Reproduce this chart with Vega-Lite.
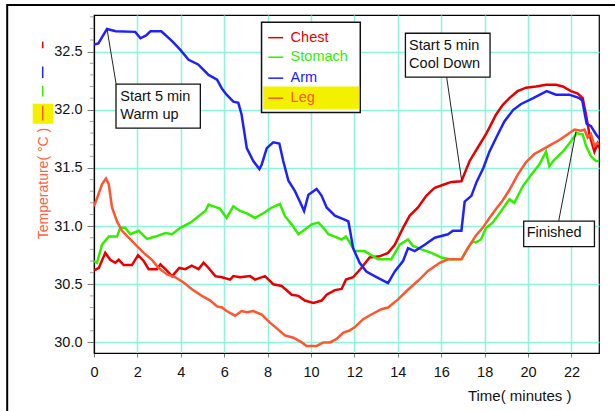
{
  "$schema": "https://vega.github.io/schema/vega-lite/v6.json",
  "width": 505,
  "height": 338,
  "autosize": "none",
  "padding": {"left": 94, "top": 15, "right": 16, "bottom": 58},
  "background": "white",
  "config": {
    "view": {"stroke": "black", "strokeWidth": 1.2},
    "font": "Liberation Sans",
    "text": {"font": "Liberation Sans"}
  },
  "datasets": {
    "temps": [
      {"series":"Chest","t":0.0,"v":30.62},{"series":"Chest","t":0.22,"v":30.64},{"series":"Chest","t":0.52,"v":30.77},{"series":"Chest","t":0.75,"v":30.71},{"series":"Chest","t":0.98,"v":30.685},{"series":"Chest","t":1.14,"v":30.71},{"series":"Chest","t":1.37,"v":30.665},{"series":"Chest","t":1.75,"v":30.665},{"series":"Chest","t":2.03,"v":30.75},{"series":"Chest","t":2.29,"v":30.7},{"series":"Chest","t":2.52,"v":30.63},{"series":"Chest","t":2.9,"v":30.63},{"series":"Chest","t":3.06,"v":30.67},{"series":"Chest","t":3.29,"v":30.63},{"series":"Chest","t":3.6,"v":30.57},{"series":"Chest","t":3.93,"v":30.64},{"series":"Chest","t":4.21,"v":30.63},{"series":"Chest","t":4.5,"v":30.66},{"series":"Chest","t":4.82,"v":30.63},{"series":"Chest","t":5.05,"v":30.685},{"series":"Chest","t":5.28,"v":30.64},{"series":"Chest","t":5.59,"v":30.57},{"series":"Chest","t":5.9,"v":30.56},{"series":"Chest","t":6.27,"v":30.54},{"series":"Chest","t":6.42,"v":30.57},{"series":"Chest","t":6.73,"v":30.56},{"series":"Chest","t":7.19,"v":30.57},{"series":"Chest","t":7.42,"v":30.54},{"series":"Chest","t":7.88,"v":30.57},{"series":"Chest","t":8.26,"v":30.5},{"series":"Chest","t":8.65,"v":30.485},{"series":"Chest","t":9.11,"v":30.41},{"series":"Chest","t":9.42,"v":30.4},{"series":"Chest","t":9.72,"v":30.36},{"series":"Chest","t":10.11,"v":30.34},{"series":"Chest","t":10.49,"v":30.36},{"series":"Chest","t":10.72,"v":30.41},{"series":"Chest","t":11.1,"v":30.45},{"series":"Chest","t":11.41,"v":30.46},{"series":"Chest","t":11.61,"v":30.54},{"series":"Chest","t":11.94,"v":30.56},{"series":"Chest","t":12.32,"v":30.64},{"series":"Chest","t":12.7,"v":30.73},{"series":"Chest","t":13.16,"v":30.74},{"series":"Chest","t":13.55,"v":30.77},{"series":"Chest","t":13.86,"v":30.84},{"series":"Chest","t":14.24,"v":30.985},{"series":"Chest","t":14.55,"v":31.09},{"series":"Chest","t":14.93,"v":31.16},{"series":"Chest","t":15.31,"v":31.26},{"series":"Chest","t":15.7,"v":31.33},{"series":"Chest","t":16.16,"v":31.36},{"series":"Chest","t":16.47,"v":31.38},{"series":"Chest","t":16.93,"v":31.385},{"series":"Chest","t":17.31,"v":31.56},{"series":"Chest","t":17.7,"v":31.68},{"series":"Chest","t":18.09,"v":31.8},{"series":"Chest","t":18.53,"v":31.96},{"series":"Chest","t":18.83,"v":32.04},{"series":"Chest","t":19.14,"v":32.1},{"series":"Chest","t":19.52,"v":32.16},{"series":"Chest","t":19.91,"v":32.19},{"series":"Chest","t":20.37,"v":32.2},{"series":"Chest","t":20.83,"v":32.215},{"series":"Chest","t":21.29,"v":32.215},{"series":"Chest","t":21.6,"v":32.2},{"series":"Chest","t":21.98,"v":32.16},{"series":"Chest","t":22.29,"v":32.14},{"series":"Chest","t":22.52,"v":32.1},{"series":"Chest","t":22.67,"v":31.96},{"series":"Chest","t":22.83,"v":31.79},{"series":"Chest","t":22.98,"v":31.69},{"series":"Chest","t":23.06,"v":31.64},{"series":"Chest","t":23.21,"v":31.71},{"series":"Chest","t":23.3,"v":31.67},
      {"series":"Stomach","t":0.0,"v":30.7},{"series":"Stomach","t":0.14,"v":30.685},{"series":"Stomach","t":0.37,"v":30.84},{"series":"Stomach","t":0.68,"v":30.91},{"series":"Stomach","t":1.06,"v":30.91},{"series":"Stomach","t":1.21,"v":30.985},{"series":"Stomach","t":1.44,"v":30.985},{"series":"Stomach","t":1.67,"v":30.93},{"series":"Stomach","t":2.06,"v":30.96},{"series":"Stomach","t":2.44,"v":30.89},{"series":"Stomach","t":2.83,"v":30.91},{"series":"Stomach","t":3.29,"v":30.94},{"series":"Stomach","t":3.6,"v":30.93},{"series":"Stomach","t":3.98,"v":30.985},{"series":"Stomach","t":4.44,"v":31.03},{"series":"Stomach","t":4.82,"v":31.085},{"series":"Stomach","t":5.13,"v":31.13},{"series":"Stomach","t":5.28,"v":31.185},{"series":"Stomach","t":5.51,"v":31.17},{"series":"Stomach","t":5.8,"v":31.15},{"series":"Stomach","t":6.11,"v":31.07},{"series":"Stomach","t":6.42,"v":31.17},{"series":"Stomach","t":6.73,"v":31.13},{"series":"Stomach","t":7.04,"v":31.11},{"series":"Stomach","t":7.42,"v":31.07},{"series":"Stomach","t":7.8,"v":31.11},{"series":"Stomach","t":8.19,"v":31.16},{"series":"Stomach","t":8.57,"v":31.19},{"series":"Stomach","t":8.8,"v":31.085},{"series":"Stomach","t":9.11,"v":31.015},{"series":"Stomach","t":9.42,"v":30.93},{"series":"Stomach","t":9.72,"v":30.97},{"series":"Stomach","t":10.03,"v":31.015},{"series":"Stomach","t":10.34,"v":31.03},{"series":"Stomach","t":10.57,"v":30.985},{"series":"Stomach","t":10.8,"v":30.93},{"series":"Stomach","t":11.1,"v":30.91},{"series":"Stomach","t":11.41,"v":30.885},{"series":"Stomach","t":11.61,"v":30.91},{"series":"Stomach","t":11.75,"v":30.87},{"series":"Stomach","t":12.01,"v":30.785},{"series":"Stomach","t":12.47,"v":30.785},{"series":"Stomach","t":13.09,"v":30.715},{"series":"Stomach","t":13.7,"v":30.715},{"series":"Stomach","t":14.09,"v":30.84},{"series":"Stomach","t":14.47,"v":30.885},{"series":"Stomach","t":14.7,"v":30.83},{"series":"Stomach","t":15.09,"v":30.8},{"series":"Stomach","t":15.55,"v":30.77},{"series":"Stomach","t":16.01,"v":30.73},{"series":"Stomach","t":16.39,"v":30.715},{"series":"Stomach","t":16.93,"v":30.715},{"series":"Stomach","t":17.24,"v":30.815},{"series":"Stomach","t":17.46,"v":30.87},{"series":"Stomach","t":17.6,"v":30.86},{"series":"Stomach","t":17.83,"v":30.885},{"series":"Stomach","t":18.07,"v":30.985},{"series":"Stomach","t":18.37,"v":31.03},{"series":"Stomach","t":18.76,"v":31.13},{"series":"Stomach","t":19.14,"v":31.23},{"series":"Stomach","t":19.37,"v":31.2},{"series":"Stomach","t":19.75,"v":31.34},{"series":"Stomach","t":20.14,"v":31.44},{"series":"Stomach","t":20.52,"v":31.53},{"series":"Stomach","t":20.83,"v":31.64},{"series":"Stomach","t":20.98,"v":31.515},{"series":"Stomach","t":21.21,"v":31.57},{"series":"Stomach","t":21.6,"v":31.64},{"series":"Stomach","t":21.98,"v":31.73},{"series":"Stomach","t":22.24,"v":31.8},{"series":"Stomach","t":22.52,"v":31.79},{"series":"Stomach","t":22.67,"v":31.69},{"series":"Stomach","t":22.9,"v":31.6},{"series":"Stomach","t":23.13,"v":31.56},{"series":"Stomach","t":23.3,"v":31.56},
      {"series":"Arm","t":0.0,"v":32.56},{"series":"Arm","t":0.2,"v":32.57},{"series":"Arm","t":0.6,"v":32.695},{"series":"Arm","t":1.0,"v":32.675},{"series":"Arm","t":1.9,"v":32.67},{"series":"Arm","t":2.14,"v":32.615},{"series":"Arm","t":2.4,"v":32.64},{"series":"Arm","t":2.6,"v":32.675},{"series":"Arm","t":3.1,"v":32.675},{"series":"Arm","t":3.6,"v":32.59},{"series":"Arm","t":3.98,"v":32.515},{"series":"Arm","t":4.36,"v":32.43},{"series":"Arm","t":4.8,"v":32.39},{"series":"Arm","t":5.28,"v":32.3},{"series":"Arm","t":5.67,"v":32.26},{"series":"Arm","t":5.9,"v":32.18},{"series":"Arm","t":6.11,"v":32.13},{"series":"Arm","t":6.42,"v":32.07},{"series":"Arm","t":6.65,"v":32.06},{"series":"Arm","t":6.8,"v":31.96},{"series":"Arm","t":7.04,"v":31.67},{"series":"Arm","t":7.34,"v":31.56},{"series":"Arm","t":7.62,"v":31.49},{"series":"Arm","t":7.73,"v":31.53},{"series":"Arm","t":7.96,"v":31.67},{"series":"Arm","t":8.26,"v":31.72},{"series":"Arm","t":8.54,"v":31.71},{"series":"Arm","t":8.72,"v":31.56},{"series":"Arm","t":8.96,"v":31.39},{"series":"Arm","t":9.26,"v":31.3},{"series":"Arm","t":9.49,"v":31.21},{"series":"Arm","t":9.68,"v":31.13},{"series":"Arm","t":9.88,"v":31.27},{"series":"Arm","t":10.26,"v":31.32},{"series":"Arm","t":10.49,"v":31.26},{"series":"Arm","t":10.72,"v":31.16},{"series":"Arm","t":11.1,"v":31.09},{"series":"Arm","t":11.49,"v":31.06},{"series":"Arm","t":11.72,"v":31.04},{"series":"Arm","t":11.8,"v":30.96},{"series":"Arm","t":11.94,"v":30.81},{"series":"Arm","t":12.24,"v":30.685},{"series":"Arm","t":12.55,"v":30.61},{"series":"Arm","t":12.93,"v":30.57},{"series":"Arm","t":13.24,"v":30.54},{"series":"Arm","t":13.55,"v":30.51},{"series":"Arm","t":13.86,"v":30.61},{"series":"Arm","t":14.24,"v":30.7},{"series":"Arm","t":14.47,"v":30.81},{"series":"Arm","t":14.78,"v":30.785},{"series":"Arm","t":15.24,"v":30.84},{"series":"Arm","t":15.7,"v":30.9},{"series":"Arm","t":16.31,"v":30.93},{"series":"Arm","t":16.54,"v":30.96},{"series":"Arm","t":16.93,"v":30.96},{"series":"Arm","t":17.08,"v":31.21},{"series":"Arm","t":17.39,"v":31.26},{"series":"Arm","t":17.63,"v":31.38},{"series":"Arm","t":17.94,"v":31.5},{"series":"Arm","t":18.22,"v":31.64},{"series":"Arm","t":18.56,"v":31.77},{"series":"Arm","t":18.91,"v":31.9},{"series":"Arm","t":19.32,"v":32.0},{"series":"Arm","t":19.68,"v":32.05},{"series":"Arm","t":20.24,"v":32.1},{"series":"Arm","t":20.86,"v":32.16},{"series":"Arm","t":21.29,"v":32.13},{"series":"Arm","t":21.9,"v":32.13},{"series":"Arm","t":22.37,"v":32.1},{"series":"Arm","t":22.5,"v":32.08},{"series":"Arm","t":22.7,"v":31.88},{"series":"Arm","t":22.9,"v":31.86},{"series":"Arm","t":23.13,"v":31.79},{"series":"Arm","t":23.3,"v":31.75},
      {"series":"Leg","t":0.0,"v":31.17},{"series":"Leg","t":0.14,"v":31.24},{"series":"Leg","t":0.37,"v":31.36},{"series":"Leg","t":0.55,"v":31.41},{"series":"Leg","t":0.68,"v":31.36},{"series":"Leg","t":0.83,"v":31.16},{"series":"Leg","t":1.06,"v":31.04},{"series":"Leg","t":1.29,"v":30.96},{"series":"Leg","t":1.6,"v":30.9},{"series":"Leg","t":1.91,"v":30.84},{"series":"Leg","t":2.29,"v":30.77},{"series":"Leg","t":2.67,"v":30.71},{"series":"Leg","t":2.98,"v":30.64},{"series":"Leg","t":3.37,"v":30.585},{"series":"Leg","t":3.75,"v":30.56},{"series":"Leg","t":4.13,"v":30.515},{"series":"Leg","t":4.5,"v":30.46},{"series":"Leg","t":4.97,"v":30.4},{"series":"Leg","t":5.36,"v":30.36},{"series":"Leg","t":5.67,"v":30.31},{"series":"Leg","t":5.9,"v":30.3},{"series":"Leg","t":6.11,"v":30.27},{"series":"Leg","t":6.5,"v":30.23},{"series":"Leg","t":6.8,"v":30.27},{"series":"Leg","t":7.04,"v":30.26},{"series":"Leg","t":7.34,"v":30.27},{"series":"Leg","t":7.73,"v":30.24},{"series":"Leg","t":8.11,"v":30.17},{"series":"Leg","t":8.49,"v":30.11},{"series":"Leg","t":8.8,"v":30.06},{"series":"Leg","t":9.19,"v":30.04},{"series":"Leg","t":9.57,"v":30.0},{"series":"Leg","t":9.8,"v":29.97},{"series":"Leg","t":10.26,"v":29.97},{"series":"Leg","t":10.57,"v":30.0},{"series":"Leg","t":10.87,"v":30.0},{"series":"Leg","t":11.18,"v":30.03},{"series":"Leg","t":11.49,"v":30.085},{"series":"Leg","t":11.75,"v":30.1},{"series":"Leg","t":12.01,"v":30.13},{"series":"Leg","t":12.4,"v":30.2},{"series":"Leg","t":12.78,"v":30.24},{"series":"Leg","t":13.24,"v":30.285},{"series":"Leg","t":13.55,"v":30.3},{"series":"Leg","t":14.01,"v":30.37},{"series":"Leg","t":14.39,"v":30.44},{"series":"Leg","t":14.93,"v":30.53},{"series":"Leg","t":15.39,"v":30.615},{"series":"Leg","t":15.93,"v":30.685},{"series":"Leg","t":16.31,"v":30.715},{"series":"Leg","t":16.93,"v":30.715},{"series":"Leg","t":17.24,"v":30.815},{"series":"Leg","t":17.6,"v":30.92},{"series":"Leg","t":17.91,"v":30.985},{"series":"Leg","t":18.22,"v":31.07},{"series":"Leg","t":18.53,"v":31.15},{"series":"Leg","t":18.83,"v":31.22},{"series":"Leg","t":19.14,"v":31.31},{"series":"Leg","t":19.52,"v":31.44},{"series":"Leg","t":19.91,"v":31.55},{"series":"Leg","t":20.29,"v":31.62},{"series":"Leg","t":20.68,"v":31.66},{"series":"Leg","t":21.06,"v":31.7},{"series":"Leg","t":21.44,"v":31.74},{"series":"Leg","t":21.83,"v":31.79},{"series":"Leg","t":22.14,"v":31.83},{"series":"Leg","t":22.44,"v":31.82},{"series":"Leg","t":22.6,"v":31.83},{"series":"Leg","t":22.75,"v":31.76},{"series":"Leg","t":22.9,"v":31.79},{"series":"Leg","t":23.06,"v":31.69},{"series":"Leg","t":23.16,"v":31.71},{"series":"Leg","t":23.3,"v":31.71}
    ],
    "minorTicks": [
      {"v": 30.1},{"v": 30.2},{"v": 30.3},{"v": 30.4},{"v": 30.6},{"v": 30.7},{"v": 30.8},{"v": 30.9},
      {"v": 31.1},{"v": 31.2},{"v": 31.3},{"v": 31.4},{"v": 31.6},{"v": 31.7},{"v": 31.8},{"v": 31.9},
      {"v": 32.1},{"v": 32.2},{"v": 32.3},{"v": 32.4},{"v": 32.6},{"v": 32.7},{"v": 32.8}
    ],
    "boxes": [
      {"x1": 1.014, "x2": 4.9, "y1": 32.221, "y2": 31.843},
      {"x1": 14.35, "x2": 18.25, "y1": 32.658, "y2": 32.281},
      {"x1": 19.8, "x2": 23.06, "y1": 31.042, "y2": 30.823}
    ],
    "notes": [
      {"x": 1.21, "y": 32.114, "text": "Start 5 min"},
      {"x": 1.21, "y": 31.957, "text": "Warm up"},
      {"x": 14.52, "y": 32.552, "text": "Start 5 min"},
      {"x": 14.52, "y": 32.395, "text": "Cool Down"},
      {"x": 19.94, "y": 30.937, "text": "Finished"}
    ],
    "leaders": [
      {"x1": 0.6, "y1": 32.695, "x2": 1.02, "y2": 32.221},
      {"x1": 16.25, "y1": 32.281, "x2": 16.94, "y2": 31.394},
      {"x1": 21.41, "y1": 31.042, "x2": 22.21, "y2": 31.814}
    ],
    "legendBox": [{"x1": 7.72, "x2": 12.27, "y1": 32.752, "y2": 31.977}],
    "legendHi": [{"x1": 7.8, "x2": 12.22, "y1": 32.2, "y2": 32.007}],
    "legendItems": [
      {"series": "Chest", "y": 32.62},
      {"series": "Stomach", "y": 32.452},
      {"series": "Arm", "y": 32.272},
      {"series": "Leg", "y": 32.1}
    ],
    "titleDashes": [
      {"series": "Chest", "y1": 32.586, "y2": 32.529},
      {"series": "Arm", "y1": 32.372, "y2": 32.272},
      {"series": "Stomach", "y1": 32.206, "y2": 32.114},
      {"series": "Leg", "y1": 32.035, "y2": 31.908}
    ],
    "titleHi": [{"x1": -2.825, "x2": -1.876, "y1": 32.052, "y2": 31.88}],
    "frame": [{"x1": -4.0, "x2": 26.0, "y1": 32.9, "y2": 29.0}]
  },
  "layer": [
    {
      "data": {"name": "temps"},
      "mark": {"type": "line", "strokeWidth": 2.5, "clip": true},
      "encoding": {
        "x": {
          "field": "t", "type": "quantitative",
          "scale": {"domain": [0, 23.27], "nice": false, "zero": false},
          "axis": {
            "values": [0,0.5,1,1.5,2,2.5,3,3.5,4,4.5,5,5.5,6,6.5,7,7.5,8,8.5,9,9.5,10,10.5,11,11.5,12,12.5,13,13.5,14,14.5,15,15.5,16,16.5,17,17.5,18,18.5,19,19.5,20,20.5,21,21.5,22,22.5,23],
            "labelExpr": "datum.value % 2 == 0 ? format(datum.value, 'd') : ''",
            "labelOverlap": false,
            "labelFlush": false,
            "labelFontSize": 14.5,
            "labelColor": "#111111",
            "labelPadding": 8,
            "tickSize": 4,
            "tickColor": "#777777",
            "domainColor": "black",
            "domainWidth": 1.2,
            "grid": true,
            "gridColor": "#8CF5DC",
            "gridWidth": 1.5,
            "gridOpacity": {"condition": {"test": "datum.value % 2 == 0 && datum.value > 0", "value": 1}, "value": 0},
            "title": "Time( minutes )",
            "titleFontSize": 15,
            "titleFontWeight": "normal",
            "titleColor": "#111111",
            "titleX": 477,
            "titleY": 42,
            "titleAlign": "right",
            "titleBaseline": "middle"
          }
        },
        "y": {
          "field": "v", "type": "quantitative",
          "scale": {"domain": [29.909, 32.815], "nice": false, "zero": false},
          "axis": {
            "values": [30.0, 30.5, 31.0, 31.5, 32.0, 32.5],
            "format": ".1f",
            "labelOverlap": false,
            "labelFlush": false,
            "labelFontSize": 14.5,
            "labelColor": "#111111",
            "labelPadding": 5,
            "tickSize": 7,
            "tickColor": "#777777",
            "domainColor": "black",
            "domainWidth": 1.2,
            "grid": true,
            "gridColor": "#8CF5DC",
            "gridWidth": 1.5,
            "title": "Temperature( °C )",
            "titleFontSize": 14,
            "titleFontWeight": "normal",
            "titleColor": "#FF6040",
            "titleX": -51,
            "titleY": 168,
            "titleAngle": 270,
            "titleAlign": "center",
            "titleBaseline": "middle"
          }
        },
        "color": {
          "field": "series", "type": "nominal",
          "scale": {"domain": ["Chest", "Stomach", "Arm", "Leg"], "range": ["#E80000", "#33EE00", "#2020FF", "#FF5530"]},
          "legend": null
        }
      }
    },
    {
      "data": {"name": "minorTicks"},
      "mark": {"type": "tick", "orient": "horizontal", "size": 4, "thickness": 1, "color": "#777777"},
      "encoding": {
        "x": {"datum": -0.092, "type": "quantitative"},
        "y": {"field": "v", "type": "quantitative"}
      }
    },
    {
      "data": {"name": "frame"},
      "mark": {"type": "rect", "fill": null, "stroke": "black", "strokeWidth": 2},
      "encoding": {
        "x": {"field": "x1", "type": "quantitative"},
        "x2": {"field": "x2"},
        "y": {"field": "y1", "type": "quantitative"},
        "y2": {"field": "y2"}
      }
    },
    {
      "data": {"name": "titleHi"},
      "mark": {"type": "rect", "fill": "#F2F200"},
      "encoding": {
        "x": {"field": "x1", "type": "quantitative"},
        "x2": {"field": "x2"},
        "y": {"field": "y1", "type": "quantitative"},
        "y2": {"field": "y2"}
      }
    },
    {
      "data": {"name": "titleDashes"},
      "mark": {"type": "rule", "strokeWidth": 1.5},
      "encoding": {
        "x": {"datum": -2.364, "type": "quantitative"},
        "y": {"field": "y1", "type": "quantitative"},
        "y2": {"field": "y2"},
        "color": {"field": "series", "type": "nominal", "legend": null}
      }
    },
    {
      "data": {"name": "leaders"},
      "mark": {"type": "rule", "color": "#222222", "strokeWidth": 1},
      "encoding": {
        "x": {"field": "x1", "type": "quantitative"},
        "x2": {"field": "x2"},
        "y": {"field": "y1", "type": "quantitative"},
        "y2": {"field": "y2"}
      }
    },
    {
      "data": {"name": "boxes"},
      "mark": {"type": "rect", "fill": "white", "stroke": "#111111", "strokeWidth": 1.3},
      "encoding": {
        "x": {"field": "x1", "type": "quantitative"},
        "x2": {"field": "x2"},
        "y": {"field": "y1", "type": "quantitative"},
        "y2": {"field": "y2"}
      }
    },
    {
      "data": {"name": "notes"},
      "mark": {"type": "text", "align": "left", "baseline": "middle", "fontSize": 14.5, "color": "#111111"},
      "encoding": {
        "x": {"field": "x", "type": "quantitative"},
        "y": {"field": "y", "type": "quantitative"},
        "text": {"field": "text"}
      }
    },
    {
      "data": {"name": "legendBox"},
      "mark": {"type": "rect", "fill": "white", "stroke": "#111111", "strokeWidth": 1.5},
      "encoding": {
        "x": {"field": "x1", "type": "quantitative"},
        "x2": {"field": "x2"},
        "y": {"field": "y1", "type": "quantitative"},
        "y2": {"field": "y2"}
      }
    },
    {
      "data": {"name": "legendHi"},
      "mark": {"type": "rect", "fill": "#F2F200"},
      "encoding": {
        "x": {"field": "x1", "type": "quantitative"},
        "x2": {"field": "x2"},
        "y": {"field": "y1", "type": "quantitative"},
        "y2": {"field": "y2"}
      }
    },
    {
      "data": {"name": "legendItems"},
      "mark": {"type": "rule", "strokeWidth": 1.5},
      "encoding": {
        "x": {"datum": 8.03, "type": "quantitative"},
        "x2": {"datum": 8.72},
        "y": {"field": "y", "type": "quantitative"},
        "color": {"field": "series", "type": "nominal", "legend": null}
      }
    },
    {
      "data": {"name": "legendItems"},
      "mark": {"type": "text", "align": "left", "baseline": "middle", "fontSize": 14.5},
      "encoding": {
        "x": {"datum": 9.06, "type": "quantitative"},
        "y": {"field": "y", "type": "quantitative"},
        "text": {"field": "series"},
        "color": {"field": "series", "type": "nominal", "legend": null}
      }
    }
  ]
}
